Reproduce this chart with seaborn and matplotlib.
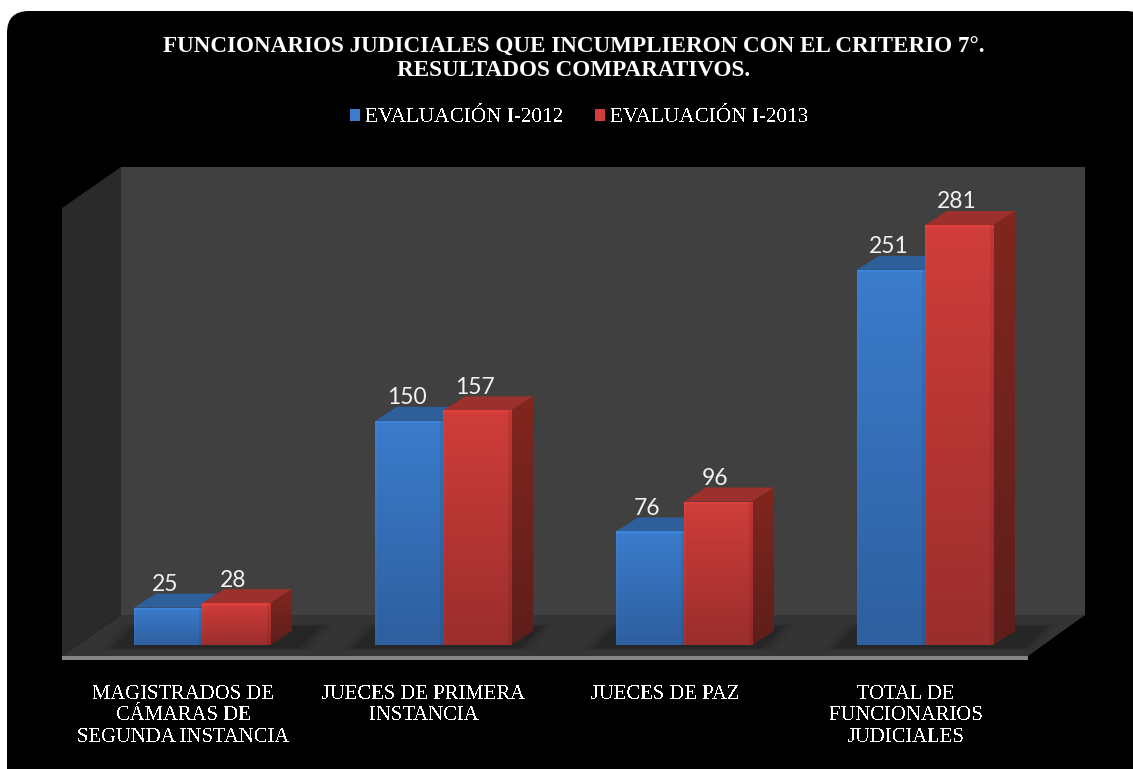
import numpy as np
import pandas as pd
import matplotlib
matplotlib.use("Agg")
import matplotlib.pyplot as plt
from matplotlib.patches import Polygon, FancyBboxPatch, Rectangle
from matplotlib.transforms import ScaledTranslation
import seaborn as sns

# Chart content
TITLE = "FUNCIONARIOS JUDICIALES QUE INCUMPLIERON CON EL CRITERIO 7°.\nRESULTADOS COMPARATIVOS."
categories = [
    "MAGISTRADOS DE\nCÁMARAS DE\nSEGUNDA INSTANCIA",
    "JUECES DE PRIMERA\nINSTANCIA",
    "JUECES DE PAZ",
    "TOTAL DE\nFUNCIONARIOS\nJUDICIALES",
]
series_names = ["EVALUACIÓN I-2012", "EVALUACIÓN I-2013"]
values_2012 = [25, 150, 76, 251]
values_2013 = [28, 157, 96, 281]

# Colours: light and dark ends of each face
front_top = {0: "#3b7ccc", 1: "#d03d3a"}
front_bottom = {0: "#2e5f9f", 1: "#9a2e2c"}
top_face = {0: "#2f5f9b", 1: "#9b302c"}
side_top = {0: "#27507f", 1: "#82261f"}
side_bottom = {0: "#1f3f66", 1: "#5e1e1b"}

W, H = 1133, 769
DPI = 100
sns.set_theme(style="white")
plt.rcParams["font.family"] = ["Liberation Serif", "DejaVu Serif"]

fig = plt.figure(figsize=(W / DPI, H / DPI), dpi=DPI, facecolor="white")

# Backdrop: black rounded panel and the box-shaped chart room, in pixel units
room = fig.add_axes([0, 0, 1, 1], zorder=0)
room.set_xlim(0, W)
room.set_ylim(H, 0)
room.axis("off")
room.add_patch(FancyBboxPatch((29, 33), 1097, 735, boxstyle="round,pad=22,rounding_size=22",
                              fc="black", ec="none"))
room.add_patch(Polygon([(121, 167), (1085, 167), (1085, 615), (121, 615)], fc="#404040", ec="none"))
room.add_patch(Polygon([(62, 208), (121, 167), (121, 615), (62, 656)], fc="#2a2a2a", ec="none"))
room.add_patch(Polygon([(62, 656), (121, 615), (1085, 615), (1028, 656)], fc="#343434", ec="none"))
room.add_patch(Rectangle((62, 656), 966, 4, fc="#858585", ec="none"))

# Soft contact shadow under the bars
for grow, alpha in zip([12, 8, 4, 0], [0.06, 0.09, 0.13, 0.2]):
    for x0, x1 in [(112, 300), (353, 521), (594, 762), (835, 1025)]:
        room.add_patch(Polygon([(x0 - grow, 648 + grow * 0.2), (x1 + grow, 648 + grow * 0.2),
                                (x1 + 22 + grow, 626 - grow * 0.2), (x0 + 22 - grow, 626 - grow * 0.2)],
                               fc="#141414", ec="none", alpha=alpha))

# Data axes: value 0 sits on the bars' base line, one category spans 241 px
px_per_value = 420 / 281
top_value = 478 / px_per_value
ax = fig.add_axes([81.5 / W, (H - 645) / H, 964 / W, 478 / H], zorder=1)
ax.patch.set_alpha(0)

df = pd.DataFrame({
    "categoria": categories * 2,
    "evaluacion": np.repeat(series_names, len(categories)),
    "valor": values_2012 + values_2013,
})
sns.barplot(data=df, x="categoria", y="valor", hue="evaluacion", order=categories,
            hue_order=series_names, palette=[front_top[0], front_top[1]],
            width=0.565, gap=0, saturation=1, errorbar=None, linewidth=0, ax=ax, zorder=5)


def hex_rgb(c):
    return np.array(matplotlib.colors.to_rgb(c))


# Extrude each seaborn bar into a box and shade its front face
depth_x = 22 / 241
depth_y = 14 / px_per_value
for s, container in enumerate(ax.containers):
    for k, bar in enumerate(container):
        x0, w, h = bar.get_x(), bar.get_width(), bar.get_height()
        x1 = x0 + w
        z = 2 + s * 0.1
        ax.add_patch(Polygon([(x0, h), (x1, h), (x1 + depth_x, h + depth_y), (x0 + depth_x, h + depth_y)],
                             fc=top_face[s], ec="none", zorder=z))
        # side face with a vertical gradient
        side_rows = np.linspace(0, 1, 64)[:, None]
        side = (1 - side_rows)[..., None] * hex_rgb(side_top[s]) + side_rows[..., None] * hex_rgb(side_bottom[s])
        side_img = ax.imshow(side, extent=(x1, x1 + depth_x, 0, h + depth_y), aspect="auto",
                             zorder=z, interpolation="bilinear")
        side_img.set_clip_path(Polygon([(x1, 0), (x1 + depth_x, depth_y), (x1 + depth_x, h + depth_y), (x1, h)],
                                       transform=ax.transData))
        # front face: vertical gradient, lit top rim and darker right rim
        rows = max(int(h * px_per_value), 2)
        cols = 68
        t = np.linspace(0, 1, rows)[:, None, None]
        face = (1 - t) * hex_rgb(front_top[s]) + t * hex_rgb(front_bottom[s])
        face = np.repeat(face, cols, axis=1)
        face[:, :2] *= 1.04
        face[:, -4:] *= 0.92
        face[:3, :] *= 1.06
        face = np.clip(face, 0, 1)
        img = ax.imshow(face, extent=(x0, x1, 0, h), aspect="auto", zorder=6, interpolation="nearest")
        img.set_clip_path(bar)
        ax.annotate(f"{h:.0f}", (x0 + w / 2, h), xytext=(-2.5, 23), xycoords="data",
                    textcoords="offset pixels", ha="center", va="center", color="#f2f2f2",
                    fontsize=16.5, family="Lato", zorder=8)

ax.set_xlim(-0.5, 3.5)
ax.set_ylim(0, top_value)
ax.set_xlabel("")
ax.set_ylabel("")
ax.set_yticks([])
sns.despine(ax=ax, left=True, bottom=True)

# Category labels hang under the front edge of the floor
ax.set_xticks(range(len(categories)))
ax.set_xticklabels(categories, fontsize=14.9, color="white", linespacing=1.2, va="top")
ax.tick_params(axis="x", length=0, pad=28.5)
shift = ScaledTranslation(-19 / DPI, 0, fig.dpi_scale_trans)
for label in ax.get_xticklabels():
    label.set_transform(label.get_transform() + shift)
    label.set_antialiased(False)

# Legend uses the handles seaborn created
handles, labels = ax.get_legend_handles_labels()
legend = ax.legend(handles, labels, ncol=2, frameon=False, loc="center",
                   bbox_to_anchor=(579.5 / W, 1 - 118 / H), bbox_transform=fig.transFigure,
                   fontsize=15.3, handlelength=0.47, handleheight=0.47, handletextpad=0.24,
                   columnspacing=1.5, labelcolor="white")
for text in legend.get_texts():
    text.set_antialiased(False)

fig.text(574 / W, 1 - 36.5 / H, TITLE, ha="center", va="top", color="white",
         fontsize=16.7, fontweight="bold", linespacing=1.16)

fig.savefig("out.png", dpi=DPI, facecolor=fig.get_facecolor())
